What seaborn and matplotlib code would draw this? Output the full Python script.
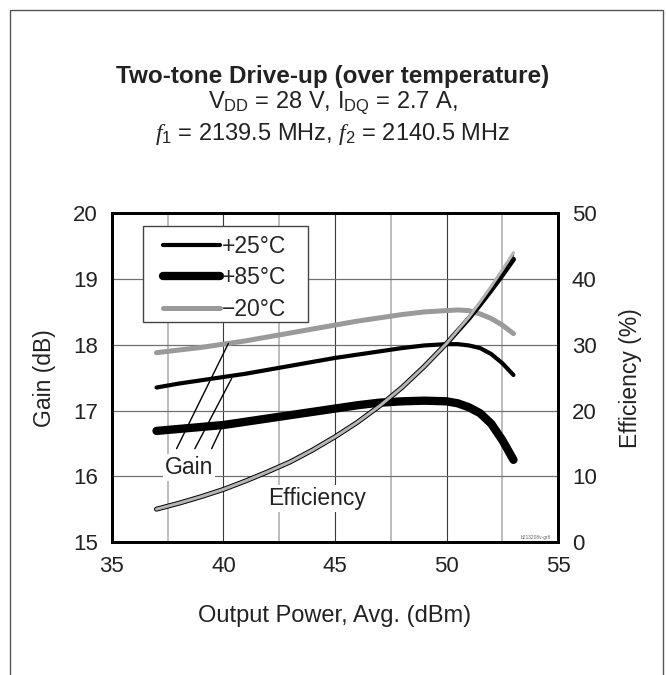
import matplotlib
matplotlib.use("Agg")
import matplotlib.pyplot as plt
import matplotlib.patches as patches
from matplotlib.lines import Line2D
import seaborn as sns
import pandas as pd

# output power (dBm), avg
power = [37, 38, 39, 40, 41, 42, 43, 44, 45, 46, 47, 48, 49, 50, 50.5, 51, 51.5, 52, 52.5, 53]

# gain (dB)
gain_p25 = [17.35, 17.41, 17.46, 17.51, 17.56, 17.62, 17.68, 17.74, 17.80, 17.85, 17.90, 17.95, 17.99, 18.01, 18.01, 17.99, 17.95, 17.86, 17.72, 17.54]
gain_p85 = [16.69, 16.72, 16.75, 16.78, 16.83, 16.88, 16.93, 16.98, 17.03, 17.08, 17.12, 17.14, 17.15, 17.14, 17.11, 17.05, 16.96, 16.80, 16.55, 16.25]
gain_m20 = [17.88, 17.92, 17.96, 18.01, 18.06, 18.12, 18.18, 18.24, 18.30, 18.36, 18.41, 18.46, 18.50, 18.52, 18.53, 18.52, 18.47, 18.40, 18.30, 18.17]

# drain efficiency (%)
eff_p25 = [5.0, 5.9, 6.9, 8.0, 9.3, 10.7, 12.2, 14.0, 16.0, 18.2, 20.7, 23.5, 26.7, 30.2, 32.1, 34.1, 36.3, 38.6, 41.0, 43.6]
eff_p85 = [5.0, 5.9, 6.9, 8.0, 9.3, 10.7, 12.2, 14.0, 16.0, 18.2, 20.7, 23.5, 26.7, 30.2, 32.1, 34.0, 36.1, 38.3, 40.6, 43.0]
eff_m20 = [5.0, 5.9, 6.9, 8.0, 9.3, 10.7, 12.2, 14.0, 16.0, 18.2, 20.7, 23.5, 26.7, 30.2, 32.2, 34.2, 36.5, 38.9, 41.4, 44.0]

temps = ["+25°C", "+85°C", "\u221220°C"]

sns.set_theme(style="white")
plt.rcParams['font.family'] = ['Liberation Sans', 'DejaVu Sans']
plt.rcParams['mathtext.fontset'] = 'custom'
plt.rcParams['mathtext.rm'] = 'Liberation Sans'
plt.rcParams['mathtext.it'] = 'Liberation Serif:italic'

df = pd.DataFrame({"power": power, "g25": gain_p25, "g85": gain_p85, "gm20": gain_m20,
                   "e25": eff_p25, "e85": eff_p85, "em20": eff_m20})

fig = plt.figure(figsize=(6.66, 6.75), dpi=100)
ax = fig.add_axes([0.168, 0.197, 0.67, 0.487])
ax2 = ax.twinx()

grey = "#9a9a9a"
txt = "#222222"

# grid
for xv in [37.5, 42.5, 47.5, 52.5]:
    ax.axvline(xv, color="#b8b8b8", lw=1.3, zorder=0)
for xv in [40, 45, 50]:
    ax.axvline(xv, color="#3a3a3a", lw=0.8, zorder=0)
for yv in [16, 17, 18, 19]:
    ax.axhline(yv, color="#707070", lw=0.9, zorder=0)

# gain curves
sns.lineplot(data=df, x="power", y="gm20", ax=ax, color=grey, lw=3.6, zorder=3)
sns.lineplot(data=df, x="power", y="g25", ax=ax, color="black", lw=3.0, zorder=3)
sns.lineplot(data=df, x="power", y="g85", ax=ax, color="black", lw=6.0, zorder=3,
             solid_capstyle="round")

# efficiency curves on the right axis
sns.lineplot(data=df, x="power", y="e25", ax=ax2, color="black", lw=1.0, zorder=1)
sns.lineplot(data=df, x="power", y="e85", ax=ax2, color="black", lw=3.6, zorder=2,
             solid_capstyle="round")
sns.lineplot(data=df, x="power", y="em20", ax=ax2, color="#b4b4b4", lw=2.2, zorder=3,
             solid_capstyle="round")

ax.set_xlim(35, 55)
ax.set_ylim(15, 20)
ax2.set_ylim(0, 50)
ax.set_xticks([35, 40, 45, 50, 55])
ax.set_yticks([15, 16, 17, 18, 19, 20])
ax2.set_yticks([0, 10, 20, 30, 40, 50])
ax.tick_params(length=0, labelsize=16, pad=10, colors=txt)
ax2.tick_params(length=0, labelsize=16, pad=10, colors=txt)
ax.set_xlabel("Output Power, Avg. (dBm)", fontsize=17, labelpad=20, color=txt)
ax.set_ylabel("Gain (dB)", fontsize=16.5, labelpad=12, color=txt)
ax2.set_ylabel("Efficiency (%)", fontsize=16.5, labelpad=16, color=txt)
ax2.grid(False)
ax.grid(False)
for a in (ax, ax2):
    for s in a.spines.values():
        s.set_linewidth(2.0)
        s.set_color("black")

# "Gain" pointer lines
ax.plot([37.90, 40.22], [16.42, 18.02], color="black", lw=1.0, zorder=4)
ax.plot([38.72, 40.37], [16.42, 17.49], color="black", lw=1.0, zorder=4)
ax.plot([39.47, 40.00], [16.42, 16.80], color="black", lw=1.0, zorder=4)
ax.text(38.45, 16.14, "Gain", fontsize=16.5, ha="center", va="center", color=txt, zorder=5,
        bbox=dict(facecolor="white", edgecolor="none", pad=1.5))
ax.text(44.2, 15.66, "Efficiency", fontsize=16.5, ha="center", va="center", color=txt, zorder=5,
        bbox=dict(facecolor="white", edgecolor="none", pad=1.5))
ax.text(54.7, 15.07, "b213208v-gr6", fontsize=3.5, ha="right", va="center", color="#666666")

# legend box drawn by hand, legend itself without frame
ax2.add_patch(patches.Rectangle((0.0695, 0.669), 0.37, 0.291, transform=ax2.transAxes,
                                facecolor="white", edgecolor="#444444", lw=1.0, zorder=9))
handles = [Line2D([], [], color="black", lw=3.0, solid_capstyle="round"),
           Line2D([], [], color="black", lw=6.0, solid_capstyle="round"),
           Line2D([], [], color=grey, lw=3.6, solid_capstyle="round")]
leg = ax2.legend(handles, temps, loc="upper left", bbox_to_anchor=(0.115, 0.935),
                 fontsize=16.5, frameon=False, handlelength=2.5,
                 handletextpad=0.05, borderpad=0, labelspacing=0.38, borderaxespad=0)
leg.set_zorder(10)

# title block
fig.text(0.5, 0.886, "Two-tone Drive-up (over temperature)", fontsize=17.5, fontweight="bold",
         ha="center", va="center", color=txt)
fig.text(0.5, 0.848, r"V$_{\rm DD}$ = 28 V, I$_{\rm DQ}$ = 2.7 A,", fontsize=17,
         ha="center", va="center", color=txt)
fig.text(0.5, 0.801, r"$f_{\rm 1}$ = 2139.5 MHz, $f_{\rm 2}$ = 2140.5 MHz", fontsize=17,
         ha="center", va="center", color=txt)

# outer frame
fig.patches.append(patches.Rectangle((10 / 666, -0.05), 653 / 666, 1.05 - 10 / 675,
                                     transform=fig.transFigure, fill=False,
                                     edgecolor="#555555", lw=1.0))

plt.savefig("out.png", dpi=100)
